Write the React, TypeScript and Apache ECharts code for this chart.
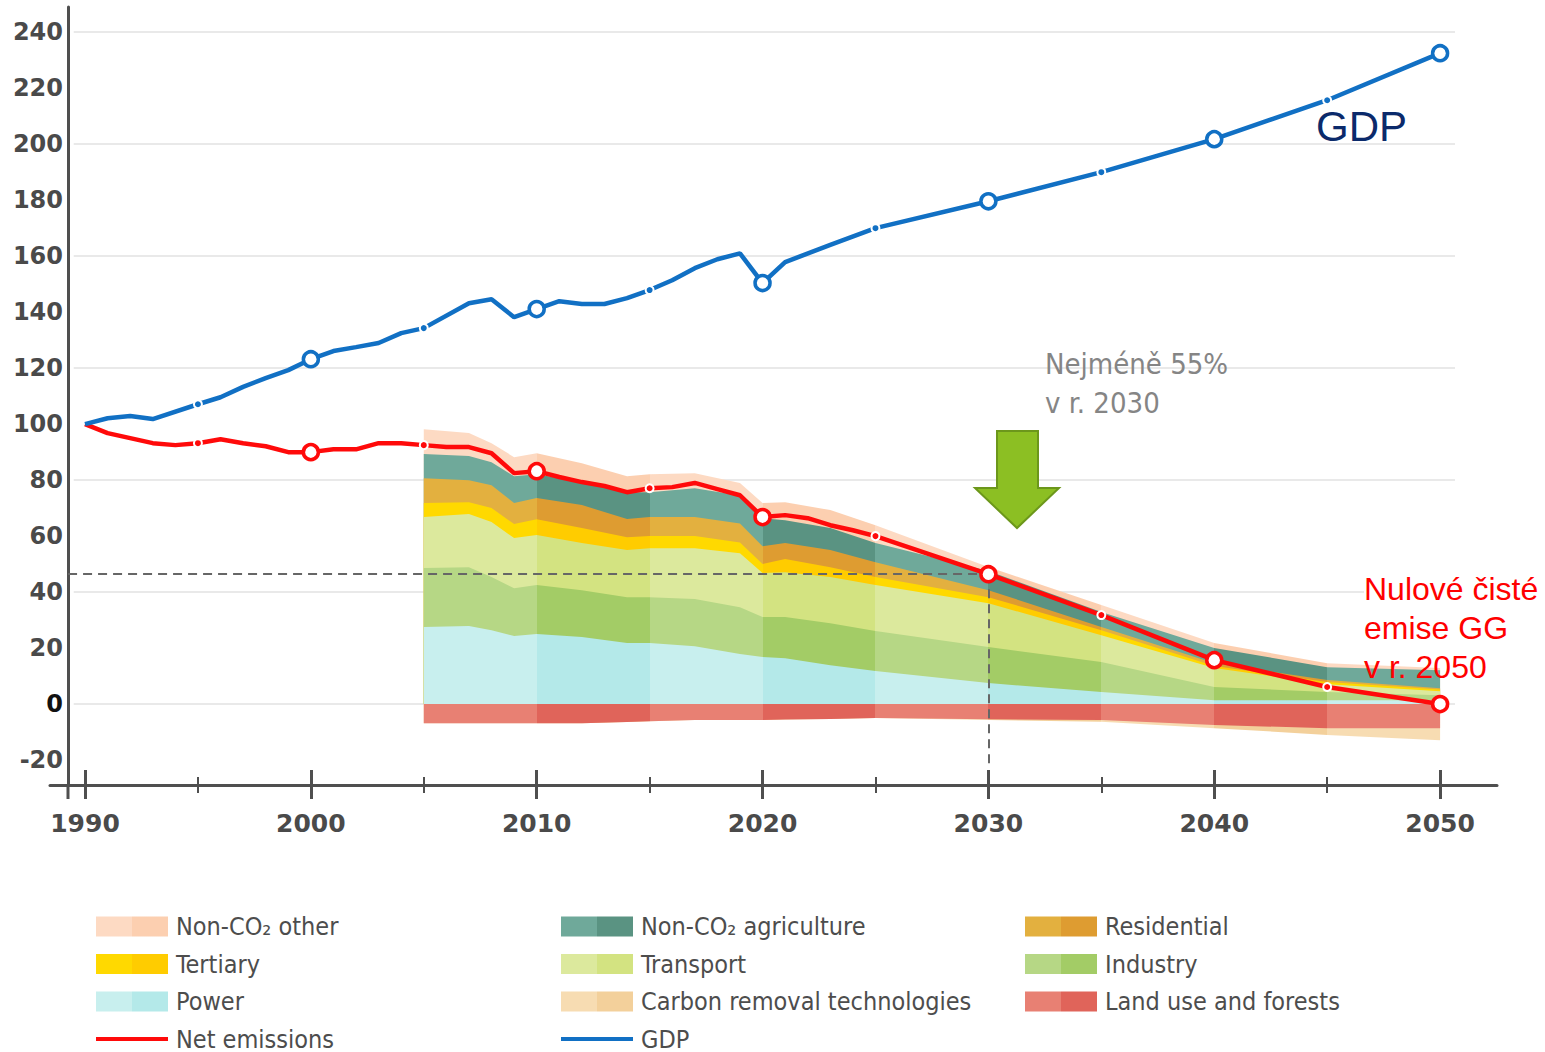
import React, { useEffect, useRef } from "react";
import * as echarts from "echarts";

// ---------- axis ranges / ticks ----------
const X_MIN = 1988.45;
const X_MAX = 2052.52;
const Y_MIN = -28.9;
const Y_MAX = 249;
const decadeTicks = [1990, 2000, 2010, 2020, 2030, 2040, 2050];
const halfTicks = [1995, 2005, 2015, 2025, 2035, 2045];
const yLabels = [-20, 0, 20, 40, 60, 80, 100, 120, 140, 160, 180, 200, 220, 240];
const gridValues = [0, 40, 80, 120, 160, 200, 240];
const GRID_FROM = 1989.5;
const GRID_TO = 2050.66;
const Y_AXIS_AT = 1989.25;
const target2030 = 46.4;
const targetYear = 2030;
const dashBottom = -22;

// ---------- GDP ----------
const gdpYears = [1990, 1991, 1992, 1993, 1995, 1996, 1997, 1998, 1999, 2000, 2001, 2002, 2003, 2004, 2005, 2007, 2008, 2009, 2010, 2011, 2012, 2013, 2014, 2015, 2016, 2017, 2018, 2019, 2020, 2021, 2023, 2025, 2030, 2035, 2040, 2045, 2050];
const gdpValues = [100, 102.1, 102.9, 101.8, 107.1, 109.6, 113.3, 116.4, 119.3, 123.2, 126.1, 127.5, 129, 132.5, 134.3, 143.2, 144.6, 138.2, 141.1, 143.9, 142.9, 142.9, 145, 147.9, 151.4, 155.7, 158.9, 161, 150.4, 157.9, 164, 170, 179.6, 190, 201.8, 215.7, 232.5];

// ---------- Net emissions ----------
const netYears = [1990, 1991, 1992, 1993, 1994, 1995, 1996, 1997, 1998, 1999, 2000, 2001, 2002, 2003, 2004, 2005, 2006, 2007, 2008, 2009, 2010, 2011, 2012, 2013, 2014, 2015, 2016, 2017, 2018, 2019, 2020, 2021, 2022, 2023, 2024, 2025, 2030, 2035, 2040, 2045, 2050];
const netValues = [100, 96.8, 95, 93.2, 92.5, 93.2, 94.6, 93.2, 92.1, 90, 90, 91, 91, 93.2, 93.2, 92.5, 91.8, 91.8, 89.6, 82.5, 83.2, 81.1, 79.3, 77.9, 75.7, 77.1, 77.5, 79, 76.8, 74.6, 66.8, 67.5, 66.4, 63.9, 62.1, 60, 46.4, 31.8, 15.7, 6.1, 0];

// ---------- sectors (stacked, bottom to top) ----------
const sectorYears = [2005, 2007, 2008, 2009, 2010, 2012, 2014, 2015, 2017, 2019, 2020, 2021, 2023, 2025, 2030, 2035, 2040, 2045, 2050];
const power = [27.5, 27.9, 26.4, 24.3, 25, 24, 21.8, 21.8, 20.7, 17.9, 16.8, 16.4, 13.9, 11.8, 7.5, 4.3, 1.4, 1.4, 1.4];
const industry = [21.1, 21.0, 19.0, 17.1, 17.5, 16.7, 16.4, 16.4, 16.8, 16.7, 14.3, 14.7, 15, 14.3, 12.9, 10.7, 4.7, 2.9, 1.8];
const transport = [18.2, 19.0, 19.6, 17.9, 17.9, 16.8, 16.8, 17.5, 18.2, 19.3, 15.7, 16, 16.5, 16.4, 15.6, 9.6, 6.8, 2.8, 1.4];
const tertiary = [5.0, 4.2, 5.0, 5.0, 5.6, 5.4, 4.6, 4.3, 4.3, 3.8, 3.2, 4.7, 3.5, 2.9, 2.2, 1.8, 0.7, 0.8, 0.6];
const residential = [8.9, 7.9, 8.2, 7.5, 7.6, 8.2, 6.5, 6.8, 6.8, 6.8, 6.4, 5.7, 6.1, 5.3, 2.5, 1.1, 1.0, 0.7, 0.5];
const agriculture = [8.6, 8.6, 8.2, 9.6, 8.5, 8.2, 9.6, 8.9, 10.3, 10, 10, 8.2, 7.9, 6.8, 6.8, 5.4, 5.4, 4.6, 6.4];
const otherNonCO2 = [8.9, 8.2, 6.8, 6.8, 7.5, 6.7, 5.7, 6.4, 5.4, 4.5, 5.4, 6.4, 6.4, 6.4, 1.5, 2.5, 1.8, 1.4, 0.8];
// negative side (from 0 downward)
const landUse = [-6.8, -6.8, -6.8, -6.8, -6.8, -6.8, -6.4, -6.1, -5.7, -5.7, -5.7, -5.5, -5.3, -5, -5.4, -5.7, -7.5, -8.6, -8.6];
const carbonRemoval = [0, 0, 0, 0, 0, 0, 0, 0, 0, 0, 0, 0, 0, 0, -0.3, -0.6, -1.1, -2.4, -4.3];

const bandEdges = [2010, 2015, 2020, 2025, 2030, 2035, 2040, 2045];

const RED = "#ff0a0a";
const BLUE = "#1170c4";
const AXIS_COLOR = "#4f4f4f";
const AXIS_FONT = "'DejaVu Sans', Verdana, sans-serif";
const NARROW = "'DejaVu Sans Condensed', 'Liberation Sans Narrow', 'Open Sans', sans-serif";
const ARIAL = "'Liberation Sans', Arial, sans-serif";

type Sector = { name: string; values: number[]; light: string; dark: string };

const positiveSectors: Sector[] = [
  { name: "Power", values: power, light: "#c8efee", dark: "#b4e9e9" },
  { name: "Industry", values: industry, light: "#b6d785", dark: "#a3cc66" },
  { name: "Transport", values: transport, light: "#dce99d", dark: "#d3e381" },
  { name: "Tertiary", values: tertiary, light: "#ffd900", dark: "#ffcc00" },
  { name: "Residential", values: residential, light: "#e3b03f", dark: "#de9c31" },
  { name: "Non-CO\u2082 agriculture", values: agriculture, light: "#6fa99a", dark: "#5a9382" },
  { name: "Non-CO\u2082 other", values: otherNonCO2, light: "#fddac3", dark: "#fccfb0" },
];
const negativeSectors: Sector[] = [
  { name: "Land use and forests", values: landUse, light: "#e88073", dark: "#e0645a" },
  { name: "Carbon removal technologies", values: carbonRemoval, light: "#f7dcb2", dark: "#f3d09b" },
];
const allSectors = [...positiveSectors, ...negativeSectors];

// running totals, so each layer's top edge is the sum of the layers beneath it
function cumulate(list: Sector[]) {
  const totals = sectorYears.map(() => 0);
  return list.map((s) => {
    const tops = s.values.map((v, i) => (totals[i] += v));
    return { ...s, tops: [...tops] };
  });
}

function bandPieces(light: string, dark: string) {
  const p: any[] = [{ lt: bandEdges[0], color: light }];
  for (let i = 0; i < bandEdges.length - 1; i++) {
    p.push({ gte: bandEdges[i], lt: bandEdges[i + 1], color: i % 2 === 0 ? dark : light });
  }
  p.push({ gte: bandEdges[bandEdges.length - 1], color: light });
  return p;
}

function pointItem(year: number, v: number, color: string) {
  if (year >= 2000 && year % 10 === 0) {
    return { value: [year, v], symbol: "circle", symbolSize: 15, itemStyle: { color: "#ffffff", borderColor: color, borderWidth: 3.5 } };
  }
  if (year >= 1995 && year % 5 === 0) {
    return { value: [year, v], symbol: "circle", symbolSize: 8, itemStyle: { color, borderColor: "#ffffff", borderWidth: 2 } };
  }
  return { value: [year, v], symbol: "none" };
}

function twoTone(light: string, dark: string) {
  return new echarts.graphic.LinearGradient(0, 0, 1, 0, [
    { offset: 0, color: light },
    { offset: 0.5, color: light },
    { offset: 0.5, color: dark },
    { offset: 1, color: dark },
  ]);
}

function legendItem(name: string) {
  const s = allSectors.find((x) => x.name === name);
  if (s) return { name, icon: "rect", itemStyle: { color: twoTone(s.light, s.dark), borderWidth: 0 } };
  const c = name === "GDP" ? BLUE : RED;
  return { name, itemStyle: { opacity: 0 }, lineStyle: { color: c, width: 4 } };
}

const legendColumns = [
  { left: 94, names: ["Non-CO\u2082 other", "Tertiary", "Power", "Net emissions"] },
  { left: 559, names: ["Non-CO\u2082 agriculture", "Transport", "Carbon removal technologies", "GDP"] },
  { left: 1025, names: ["Residential", "Industry", "Land use and forests"] },
];

function buildOption(): any {
  // draw the tallest running total first, so each lower layer is painted over it
  const drawOrder = [...cumulate(positiveSectors).reverse(), ...cumulate(negativeSectors).reverse()];

  const areaSeries = drawOrder.map((s) => ({
    type: "line",
    name: s.name,
    data: sectorYears.map((y, i) => [y, s.tops[i]]),
    symbol: "none",
    showSymbol: false,
    lineStyle: { width: 0, opacity: 0 },
    areaStyle: { opacity: 1, origin: 0 },
    silent: true,
    z: 2,
  }));

  const netSeries = {
    type: "line",
    name: "Net emissions",
    data: netYears.map((y, i) => pointItem(y, netValues[i], RED)),
    showAllSymbol: true,
    lineStyle: { color: RED, width: 4.5 },
    itemStyle: { color: RED },
    z: 6,
    markLine: {
      silent: true,
      z: 4,
      symbol: ["none", "none"],
      label: { show: false },
      lineStyle: { color: "#666666", width: 2, type: [9, 6] },
      data: [
        [{ coord: [Y_AXIS_AT, target2030] }, { coord: [targetYear, target2030] }],
        [{ coord: [targetYear, target2030] }, { coord: [targetYear, dashBottom] }],
      ],
    },
  };

  const gdpSeries = {
    type: "line",
    name: "GDP",
    data: gdpYears.map((y, i) => pointItem(y, gdpValues[i], BLUE)),
    showAllSymbol: true,
    lineStyle: { color: BLUE, width: 4.5 },
    itemStyle: { color: BLUE },
    z: 6,
    markLine: {
      silent: true,
      z: 1,
      symbol: ["none", "none"],
      label: { show: false },
      lineStyle: { color: "#e9e9e9", width: 2, type: "solid" },
      data: gridValues.map((v) => [{ coord: [GRID_FROM, v] }, { coord: [GRID_TO, v] }]),
    },
  };

  const xBase = {
    type: "value",
    min: X_MIN,
    max: X_MAX,
    position: "bottom",
    splitLine: { show: false },
  };

  return {
    animation: false,
    backgroundColor: "#ffffff",
    grid: { left: 50, right: 48, top: 7, bottom: 267, containLabel: false },
    xAxis: [
      {
        ...xBase,
        axisLine: { show: true, onZero: false, lineStyle: { color: AXIS_COLOR, width: 3 } },
        axisTick: { show: true, customValues: decadeTicks, inside: false, length: 14, lineStyle: { color: AXIS_COLOR, width: 3 } },
        axisLabel: {
          customValues: decadeTicks,
          formatter: (v: any) => String(Math.round(Number(v))),
          margin: 26,
          fontSize: 25,
          fontWeight: "bold",
          color: "#4a4a4a",
          fontFamily: AXIS_FONT,
        },
      },
      {
        ...xBase,
        axisLine: { show: false, onZero: false },
        axisTick: { show: true, customValues: decadeTicks, inside: true, length: 15, lineStyle: { color: AXIS_COLOR, width: 3 } },
        axisLabel: { show: false },
      },
      {
        ...xBase,
        axisLine: { show: false, onZero: false },
        axisTick: { show: true, customValues: halfTicks, inside: false, length: 8, lineStyle: { color: AXIS_COLOR, width: 2 } },
        axisLabel: { show: false },
      },
      {
        ...xBase,
        axisLine: { show: false, onZero: false },
        axisTick: { show: true, customValues: halfTicks, inside: true, length: 8, lineStyle: { color: AXIS_COLOR, width: 2 } },
        axisLabel: { show: false },
      },
    ],
    yAxis: {
      type: "value",
      min: Y_MIN,
      max: Y_MAX,
      offset: -18,
      axisLine: { show: true, onZero: false, lineStyle: { color: AXIS_COLOR, width: 3 } },
      axisTick: { show: false },
      splitLine: { show: false },
      axisLabel: {
        customValues: yLabels,
        formatter: (v: any) => String(Math.round(Number(v))),
        margin: 5,
        fontSize: 24,
        fontWeight: "bold",
        fontFamily: AXIS_FONT,
        color: (v: any) => (Number(v) === 0 ? "#111111" : "#4a4a4a"),
      },
    },
    visualMap: drawOrder.map((s, i) => ({
      type: "piecewise",
      show: false,
      dimension: 0,
      seriesIndex: i,
      pieces: bandPieces(s.light, s.dark),
    })),
    legend: legendColumns.map((col) => ({
      orient: "vertical",
      left: col.left,
      top: 914,
      height: 160,
      padding: 0,
      itemWidth: 72,
      itemHeight: 20,
      itemGap: 12.5,
      selectedMode: false,
      textStyle: { fontFamily: NARROW, fontSize: 25, color: "#4d4d4d", padding: [0, 0, 0, 3] },
      data: col.names.map(legendItem),
    })),
    series: [...areaSeries, netSeries, gdpSeries],
    graphic: [
      { type: "line", z: 10, shape: { x1: 68, y1: 784, x2: 68, y2: 799 }, style: { stroke: AXIS_COLOR, lineWidth: 3 }, silent: true },
      {
        type: "polygon",
        z: 10,
        shape: { points: [[997, 431], [1038, 431], [1038, 488], [1059, 488], [1017, 528], [975, 488], [997, 488]] },
        style: { fill: "#8cbf23", stroke: "#6c971b", lineWidth: 2 },
        silent: true,
      },
      {
        type: "text",
        z: 10,
        left: 1045,
        top: 344,
        style: { text: "Nejméně 55%\nv r. 2030", fill: "#858585", font: `29px ${NARROW}`, lineHeight: 39 },
        silent: true,
      },
      {
        type: "text",
        z: 10,
        left: 1316,
        top: 105,
        style: { text: "GDP", fill: "#0b2a6b", font: `42px ${ARIAL}` },
        silent: true,
      },
      {
        type: "text",
        z: 10,
        left: 1364,
        top: 569,
        style: { text: "Nulové čisté", fill: "#ff0000", font: `32px ${ARIAL}`, lineHeight: 39, backgroundColor: "#ffffff" },
        silent: true,
      },
      {
        type: "text",
        z: 10,
        left: 1364,
        top: 608,
        style: { text: "emise GG\nv r. 2050", fill: "#ff0000", font: `32px ${ARIAL}`, lineHeight: 39 },
        silent: true,
      },
    ],
  };
}

export default function App() {
  const ref = useRef<HTMLDivElement>(null);
  useEffect(() => {
    if (!ref.current) return;
    const chart = echarts.init(ref.current, undefined, { renderer: "svg" });
    chart.setOption(buildOption());
    return () => chart.dispose();
  }, []);
  return (
    <div
      ref={ref}
      style={{ position: "absolute", left: 0, top: 0, width: "1545px", height: "1052px", background: "#ffffff" }}
    />
  );
}
